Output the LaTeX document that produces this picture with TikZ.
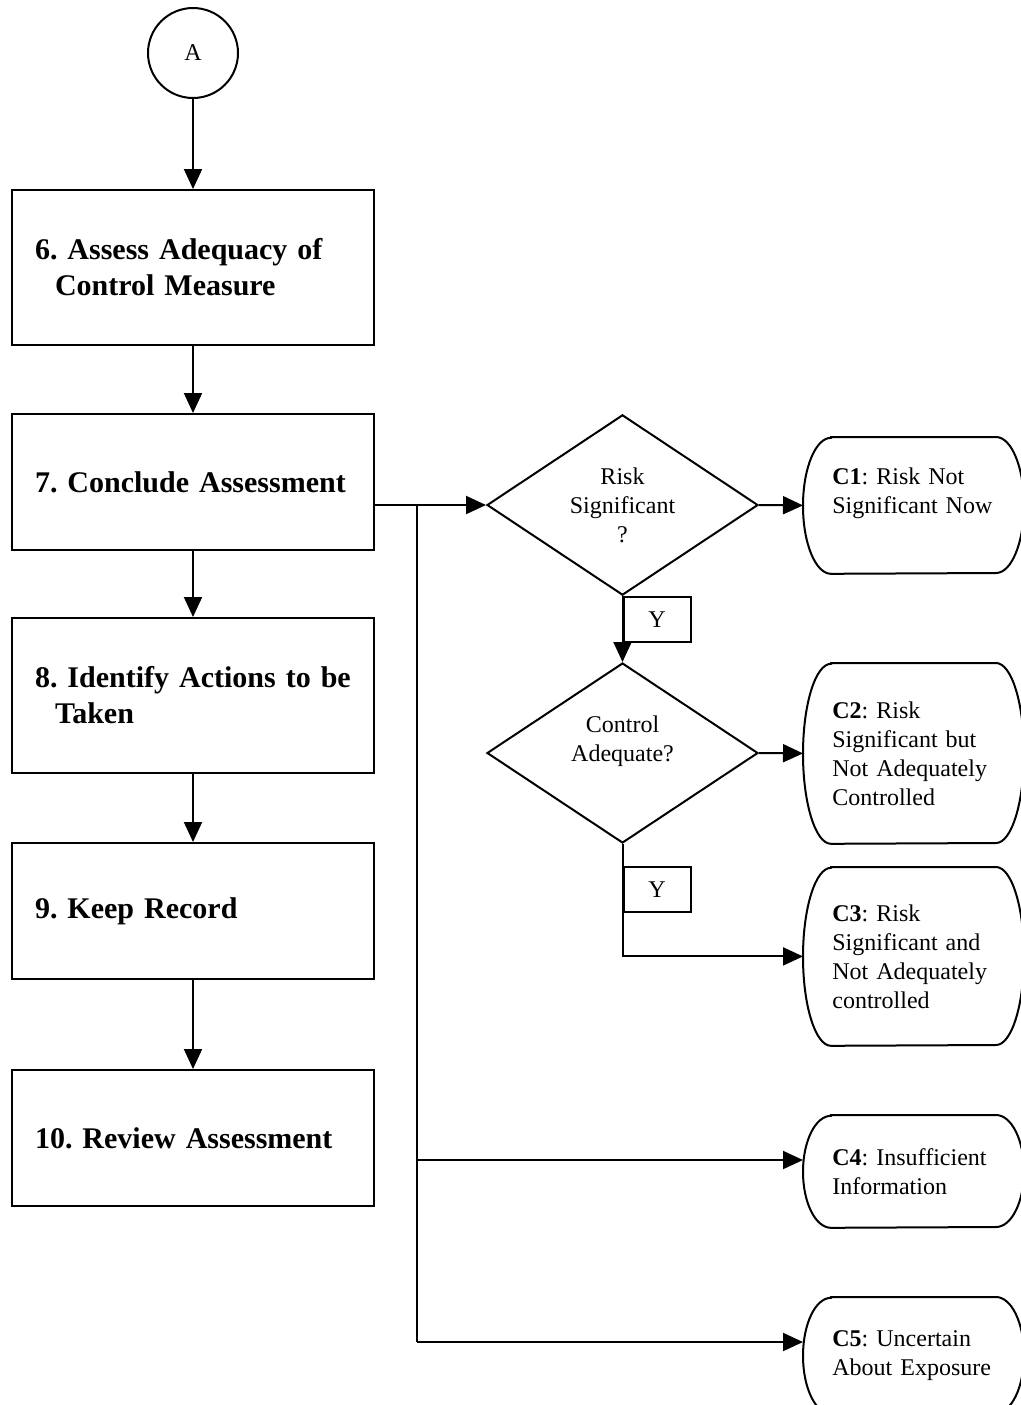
\documentclass[tikz,border=0pt]{standalone}
\usepackage{fontspec}
\setmainfont{Liberation Serif}
\frenchspacing
\usetikzlibrary{shapes.geometric}
\usetikzlibrary{arrows.meta}
\usetikzlibrary{calc}
\usetikzlibrary{positioning}

\tikzset{
  stepbox/.style={draw,line width=1pt,rectangle,text width=158pt,inner xsep=11.5pt,inner ysep=0pt,align=left,font=\fontsize{15}{18}\selectfont\bfseries},
  decision/.style={draw,line width=1pt,diamond,minimum width=135.5pt,minimum height=90pt,inner sep=0pt,align=center,font=\fontsize{12}{14.5}\selectfont},
  ybox/.style={draw,line width=1pt,rectangle,minimum width=33.5pt,minimum height=22.5pt,inner sep=0pt,font=\fontsize{12}{14.5}\selectfont},
  termbox/.style={rectangle,text width=90pt,inner xsep=14.5pt,inner ysep=0pt,align=left,font=\fontsize{12}{14.5}\selectfont},
  flow/.style={line width=1pt,-{Triangle[length=10pt,width=9pt]}},
  wire/.style={line width=1pt}
}

\newcommand\termshape[2]{%
\draw[line width=1pt] ([xshift=14pt]#1.north west) -- ([xshift=96.5pt]#1.north west)
  arc[start angle=90,end angle=-90,x radius=14pt,y radius=#2]
  -- ([xshift=14pt]#1.south west)
  arc[start angle=270,end angle=90,x radius=14pt,y radius=#2] -- cycle;}

\begin{document}
\begin{tikzpicture}[x=0.5pt,y=-0.5pt]
\useasboundingbox (0,0) rectangle (1021,1405);
\clip (0,0) rectangle (1021,1405);
\path (193,53) node(A) [draw,line width=1pt,circle,minimum size=45pt,font=\fontsize{12}{14.5}\selectfont] {A};
\path (193,267.5) node(assess) [stepbox,minimum height=77.5pt] {6. Assess Adequacy of\\\hspace*{10pt}Control Measure};
\path (193,482) node(conclude) [stepbox,minimum height=68pt] {7. Conclude Assessment};
\path (193,695.5) node(actions) [stepbox,minimum height=77.5pt] {8. Identify Actions to be\\\hspace*{10pt}Taken};
\path (193,911) node(record) [stepbox,minimum height=68pt] {9. Keep Record};
\path (193,1138) node(review) [stepbox,minimum height=68pt] {10. Review Assessment};
\draw[flow] (A) -- (assess);
\draw[flow] (assess) -- (conclude);
\draw[flow] (conclude) -- (actions);
\draw[flow] (actions) -- (record);
\draw[flow] (record) -- (review);
\path (622.5,505) node(risk) [decision] {Risk\\Significant\\?};
\path (622.5,753) node(adequate) [decision] {Control\\Adequate?\\\mbox{}};
\path (risk.south) node(yes1) [ybox,anchor=north west] {Y};
\path (622.5,866) node(yes2) [ybox,anchor=north west] {Y};
\path (803,437) node(c1) [termbox,anchor=north west,minimum height=68pt] {\textbf{C1}: Risk Not\\Significant Now\\\mbox{}};
\path (803,663) node(c2) [termbox,anchor=north west,minimum height=90pt] {\textbf{C2}: Risk\\Significant but\\Not Adequately\\Controlled};
\path (803,867) node(c3) [termbox,anchor=north west,minimum height=89pt] {\textbf{C3}: Risk\\Significant and\\Not Adequately\\controlled};
\path (803,1115) node(c4) [termbox,anchor=north west,minimum height=56pt] {\textbf{C4}: Insufficient\\Information};
\path (803,1297) node(c5) [termbox,anchor=north west,minimum height=58pt] {\textbf{C5}: Uncertain\\About Exposure};
\termshape{c1}{34pt}
\termshape{c2}{45pt}
\termshape{c3}{44.5pt}
\termshape{c4}{28pt}
\termshape{c5}{29pt}
\path (417,505) coordinate(tap0);
\path (417,1160) coordinate(tap4);
\path (417,1342) coordinate(tap5);
\draw[flow] (conclude.east |- risk.west) -- (risk.west);
\draw[wire] (tap0) -- (tap5);
\draw[flow] (tap4) -- (tap4 -| c4.west);
\draw[flow] (tap5) -- (tap5 -| c5.west);
\draw[flow] (risk.east) -- (c1.west);
\draw[flow] (risk.south) -- (adequate.north);
\draw[flow] (adequate.east) -- (c2.west);
\draw[flow] (adequate.south) |- (c3.west);
\end{tikzpicture}
\end{document}
